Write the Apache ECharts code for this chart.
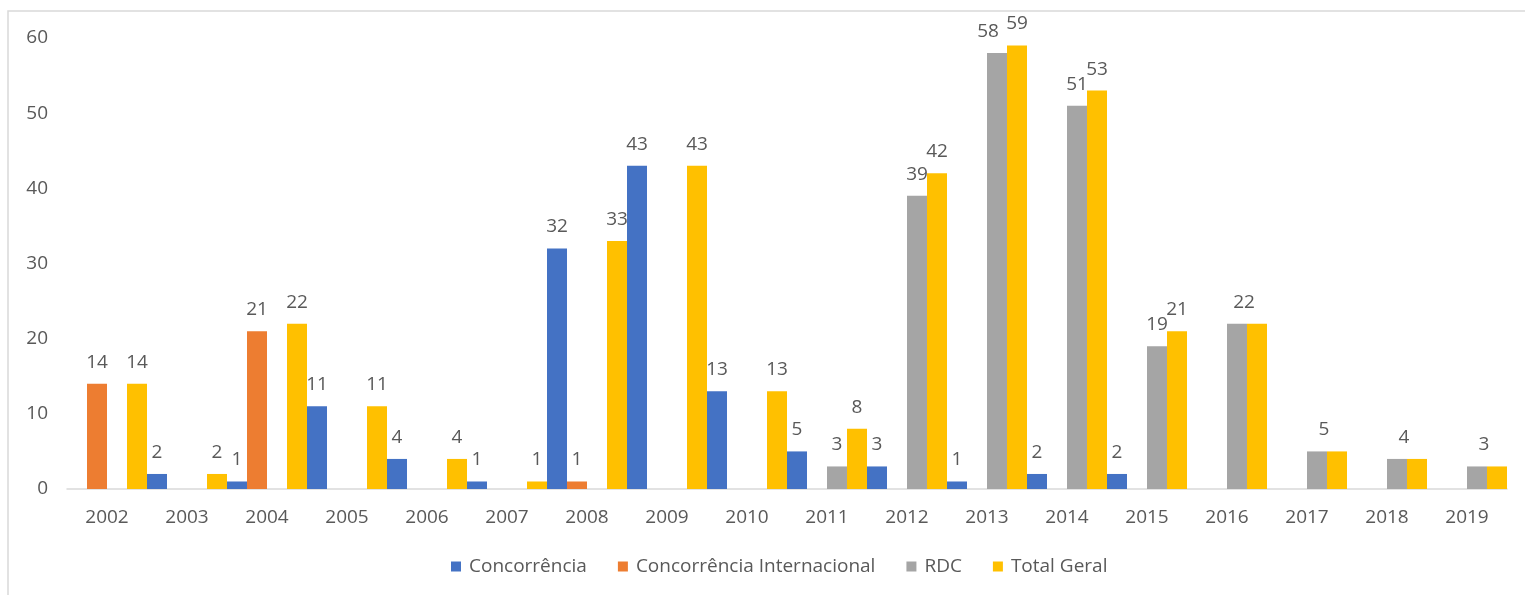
<!DOCTYPE html>
<html>
<head>
<meta charset="utf-8">
<script src="https://cdn.jsdelivr.net/npm/echarts@6/dist/echarts.min.js"></script>
<style>
  html, body { margin: 0; padding: 0; background: #fff; }
  #chart { width: 1525px; height: 595px; }
</style>
</head>
<body>
<div id="chart"></div>
<script>
// anos (categorias)
var years = ['2002', '2003', '2004', '2005', '2006', '2007', '2008', '2009', '2010',
  '2011', '2012', '2013', '2014', '2015', '2016', '2017', '2018', '2019'];

// null = célula vazia (sem barra, sem rótulo)
var concorrencia = [null, 2, 1, 11, 4, 1, 32, 43, 13, 5, 3, 1, 2, 2, null, null, null, null];
var concorrenciaInternacional = [14, null, 21, null, null, null, 1, null, null, null, null, null, null, null, null, null, null, null];
var rdc = [null, null, null, null, null, null, null, null, null, 3, 39, 58, 51, 19, 22, 5, 4, 3];
var totalGeral = [14, 2, 22, 11, 4, 1, 33, 43, 13, 8, 42, 59, 53, 21, 22, 5, 4, 3];

var yTicks = [0, 10, 20, 30, 40, 50, 60];

var textColor = '#595959';
var fontFamily = '"Open Sans", "DejaVu Sans", sans-serif';
var fontSize = 19;

// anos onde RDC == Total: só um rótulo aparece, entre as duas barras
var sharedLabelYears = ['2016', '2017', '2018', '2019'];

var chart = echarts.init(document.getElementById('chart'));

function makeSeries(name, values, color, kind) {
  var data = values.map(function (v, i) {
    if (v === null) return null;
    var shared = sharedLabelYears.indexOf(years[i]) >= 0;
    if (kind === 'rdc' && shared) {
      return { value: v, label: { offset: [7, 0] } };
    }
    if (kind === 'rdc' && years[i] === '2013') {
      // rótulo empurrado p/ esquerda (colide com o 59)
      return { value: v, label: { offset: [-9, 0] } };
    }
    if (kind === 'total' && shared) {
      return { value: v, label: { show: false } };
    }
    return v;
  });
  return {
    name: name,
    type: 'bar',
    data: data,
    barGap: '0%',
    barCategoryGap: '0%',
    itemStyle: { color: color },
    label: {
      show: true,
      position: 'top',
      distance: 12,
      color: textColor,
      fontSize: fontSize,
      fontFamily: fontFamily
    }
  };
}

var option = {
  animation: false,
  color: ['#4472C4', '#ED7D31', '#A5A5A5', '#FFC000'],
  graphic: [{
    type: 'rect',
    silent: true,
    shape: { x: 8, y: 11, width: 1540, height: 620 },
    style: { fill: 'none', stroke: '#d9d9d9', lineWidth: 1.5 }
  }],
  grid: {
    left: 67,
    right: 18,
    top: 38,
    bottom: 106,
    containLabel: false
  },
  legend: {
    bottom: 14,
    left: 446,
    itemWidth: 10,
    itemHeight: 10,
    itemGap: 31,
    icon: 'rect',
    textStyle: {
      color: textColor,
      fontSize: fontSize,
      fontFamily: fontFamily,
      padding: [0, 0, 0, 3]
    },
    data: ['Concorrência', 'Concorrência Internacional', 'RDC', 'Total Geral']
  },
  xAxis: {
    type: 'category',
    data: years,
    axisTick: { show: false },
    axisLine: { lineStyle: { color: '#d9d9d9', width: 1.5 } },
    axisLabel: {
      color: textColor,
      fontSize: fontSize,
      fontFamily: fontFamily,
      margin: 19
    }
  },
  yAxis: {
    type: 'value',
    min: yTicks[0],
    max: yTicks[yTicks.length - 1],
    interval: 10,
    splitLine: { show: false },
    axisLine: { show: false },
    axisTick: { show: false },
    axisLabel: {
      color: textColor,
      fontSize: fontSize,
      fontFamily: fontFamily,
      margin: 19
    }
  },
  series: [
    makeSeries('Concorrência', concorrencia, '#4472C4', 'conc'),
    makeSeries('Concorrência Internacional', concorrenciaInternacional, '#ED7D31', 'intl'),
    makeSeries('RDC', rdc, '#A5A5A5', 'rdc'),
    makeSeries('Total Geral', totalGeral, '#FFC000', 'total')
  ]
};

chart.setOption(option);
</script>
</body>
</html>
